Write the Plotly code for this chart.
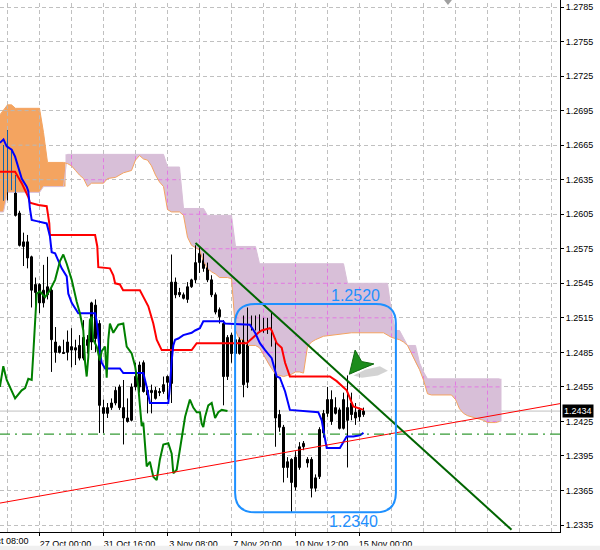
import numpy as np
import plotly.graph_objects as go

# ---------------- data ----------------
bar_index = list(range(91))
open_ = [1.2643, 1.2659, 1.2639, 1.2634, 1.2606, 1.2577, 1.2581, 1.2568, 1.2537, 1.2544,
         1.2528, 1.2535, 1.2539, 1.2494, 1.2490, 1.2485, 1.2485, 1.2487, 1.2489, 1.2491,
         1.2498, 1.2491, 1.2494, 1.2526, 1.2510, 1.2437, 1.2432, 1.2437, 1.2441, 1.2455,
         1.2437, 1.2428, 1.2426, 1.2464, 1.2455, 1.2476, 1.2452, 1.2450, 1.2445, 1.2451,
         1.2451, 1.2464, 1.2458, 1.2546, 1.2537, 1.2535, 1.2531, 1.2542, 1.2548, 1.2563,
         1.2567, 1.2559, 1.2548, 1.2535, 1.2522, 1.2510, 1.2464, 1.2500, 1.2484, 1.2484,
         1.2504, 1.2459, 1.2511, 1.2508, 1.2509, 1.2505, 1.2508, 1.2508, 1.2494, 1.2431,
         1.2420, 1.2385, 1.2392, 1.2368, 1.2385, 1.2403, 1.2392, 1.2392, 1.2367, 1.2377,
         1.2415, 1.2432, 1.2444, 1.2432, 1.2435, 1.2419, 1.2437, 1.2441, 1.2428, 1.2435,
         1.2431]
high_ = [1.2665, 1.2678, 1.2661, 1.2639, 1.2608, 1.2589, 1.2587, 1.2569, 1.2550, 1.2545,
         1.2561, 1.2568, 1.2541, 1.2507, 1.2491, 1.2496, 1.2504, 1.2506, 1.2496, 1.2500,
         1.2513, 1.2500, 1.2529, 1.2531, 1.2513, 1.2444, 1.2441, 1.2445, 1.2455, 1.2457,
         1.2461, 1.2445, 1.2458, 1.2476, 1.2477, 1.2478, 1.2455, 1.2457, 1.2455, 1.2454,
         1.2464, 1.2465, 1.2570, 1.2550, 1.2541, 1.2537, 1.2546, 1.2549, 1.2578, 1.2577,
         1.2571, 1.2563, 1.2552, 1.2537, 1.2524, 1.2513, 1.2500, 1.2502, 1.2497, 1.2498,
         1.2517, 1.2524, 1.2517, 1.2517, 1.2518, 1.2515, 1.2515, 1.2520, 1.2497, 1.2435,
         1.2422, 1.2394, 1.2393, 1.2399, 1.2407, 1.2408, 1.2394, 1.2394, 1.2379, 1.2420,
         1.2435, 1.2455, 1.2452, 1.2446, 1.2437, 1.2450, 1.2465, 1.2450, 1.2441, 1.2437,
         1.2437]
low_ = [1.2617, 1.2617, 1.2626, 1.2603, 1.2577, 1.2560, 1.2558, 1.2524, 1.2519, 1.2519,
        1.2524, 1.2531, 1.2468, 1.2476, 1.2484, 1.2484, 1.2478, 1.2472, 1.2474, 1.2478,
        1.2478, 1.2484, 1.2487, 1.2485, 1.2415, 1.2415, 1.2428, 1.2435, 1.2439, 1.2435,
        1.2405, 1.2424, 1.2425, 1.2452, 1.2450, 1.2450, 1.2432, 1.2432, 1.2444, 1.2447,
        1.2449, 1.2444, 1.2441, 1.2532, 1.2533, 1.2531, 1.2528, 1.2541, 1.2545, 1.2554,
        1.2555, 1.2546, 1.2533, 1.2518, 1.2510, 1.2439, 1.2461, 1.2476, 1.2481, 1.2483,
        1.2446, 1.2454, 1.2504, 1.2504, 1.2502, 1.2502, 1.2501, 1.2490, 1.2403, 1.2416,
        1.2372, 1.2376, 1.2346, 1.2365, 1.2383, 1.2400, 1.2385, 1.2359, 1.2364, 1.2375,
        1.2411, 1.2429, 1.2422, 1.2431, 1.2418, 1.2418, 1.2385, 1.2426, 1.2422, 1.2425,
        1.2429]
close_ = [1.2642, 1.2639, 1.2632, 1.2604, 1.2578, 1.2581, 1.2567, 1.2539, 1.2544, 1.2528,
          1.2539, 1.2542, 1.2496, 1.2485, 1.2485, 1.2484, 1.2494, 1.2490, 1.2487, 1.2480,
          1.2480, 1.2496, 1.2528, 1.2497, 1.2439, 1.2432, 1.2437, 1.2441, 1.2452, 1.2437,
          1.2428, 1.2425, 1.2455, 1.2455, 1.2474, 1.2451, 1.2448, 1.2452, 1.2452, 1.2450,
          1.2457, 1.2459, 1.2546, 1.2535, 1.2535, 1.2532, 1.2542, 1.2548, 1.2563, 1.2571,
          1.2558, 1.2548, 1.2535, 1.2520, 1.2516, 1.2464, 1.2498, 1.2484, 1.2496, 1.2496,
          1.2457, 1.2511, 1.2508, 1.2511, 1.2504, 1.2510, 1.2506, 1.2494, 1.2428, 1.2420,
          1.2385, 1.2390, 1.2372, 1.2394, 1.2403, 1.2406, 1.2389, 1.2367, 1.2376, 1.2418,
          1.2432, 1.2444, 1.2425, 1.2437, 1.2419, 1.2444, 1.2426, 1.2431, 1.2433, 1.2429,
          1.2434]

# Tenkan-sen (red)
tenkan_x = [-0.9, 2.9, 4.55, 5.4, 6.2, 6.6, 8.7, 10.8, 11.45, 11.6, 22.9, 23.45, 23.7, 26.6,
            27.45, 27.9, 29.1, 29.9, 34.1, 35.0, 36.2, 37.45, 38.3, 39.55, 47.05, 48.3, 60.8,
            63.7, 64.55, 66.6, 67.05, 68.3, 69.55, 70.4, 71.6, 81.6, 83.3, 85.8, 87.45, 90.0]
tenkan_y = [1.2642, 1.2642, 1.2632, 1.2625, 1.2620, 1.2615, 1.2613, 1.2612, 1.2597, 1.2587,
            1.2587, 1.2577, 1.2559, 1.2558, 1.2552, 1.2545, 1.2544, 1.2539, 1.2539, 1.2533,
            1.2525, 1.2510, 1.2496, 1.2487, 1.2487, 1.2493, 1.2493, 1.2502, 1.2504, 1.2506,
            1.2504, 1.2493, 1.2489, 1.2476, 1.2464, 1.2464, 1.2460, 1.2452, 1.2438, 1.2435]

# Kijun-sen (blue)
kijun_x = [-0.9, 0.0, 0.8, 2.05, 2.9, 3.7, 4.55, 5.8, 6.2, 6.6, 7.05, 8.3, 10.8, 11.6, 12.05,
           12.9, 14.55, 15.8, 16.2, 17.05, 18.7, 22.9, 23.3, 24.1, 24.55, 25.4, 29.1, 29.95,
           34.95, 35.8, 36.6, 41.2, 41.6, 42.05, 42.45, 42.9, 43.7, 44.95, 47.05, 47.9, 49.1,
           49.95, 54.95, 55.4, 61.6, 62.9, 64.1, 65.4, 67.05, 68.3, 69.1, 70.4, 71.6, 78.7,
           79.55, 79.95, 80.8, 84.1, 85.8, 87.45, 89.1, 90.0]
kijun_y = [1.2667, 1.2670, 1.2664, 1.2661, 1.2655, 1.2645, 1.2636, 1.2629, 1.2625, 1.2610,
           1.2600, 1.2599, 1.2597, 1.2586, 1.2572, 1.2571, 1.2558, 1.2551, 1.2536, 1.2528,
           1.2519, 1.2519, 1.2512, 1.2485, 1.2476, 1.2471, 1.2471, 1.2467, 1.2467, 1.2455,
           1.2441, 1.2441, 1.2455, 1.2478, 1.2491, 1.2496, 1.2497, 1.2500, 1.2502, 1.2504,
           1.2506, 1.2512, 1.2512, 1.2510, 1.2509, 1.2502, 1.2493, 1.2487, 1.2480, 1.2464,
           1.2463, 1.2451, 1.2435, 1.2433, 1.2426, 1.2418, 1.2402, 1.2402, 1.2412, 1.2412,
           1.2413, 1.2415]

# Chikou span (green)
chikou_x = [-0.9, -0.05, 0.8, 2.9, 4.55, 5.4, 6.2, 7.05, 7.45, 7.9, 8.3, 9.1, 10.4, 11.6, 12.9,
            14.1, 14.95, 15.8, 17.05, 18.3, 19.1, 19.95, 20.4, 20.8, 21.2, 21.6, 22.05, 22.45,
            23.3, 24.1, 24.55, 25.4, 25.8, 26.2, 26.6, 27.45, 28.7, 29.95, 30.8, 32.05, 32.9,
            33.7, 34.1, 34.55, 34.95, 35.8, 36.6, 37.45, 38.3, 39.1, 39.95, 41.2, 42.05, 42.45,
            43.3, 44.55, 45.4, 46.6, 47.45, 48.3, 49.1, 49.55, 49.95, 50.4, 51.2, 52.05, 52.9,
            53.7, 54.55, 56.0]
chikou_y = [1.2455, 1.2473, 1.2461, 1.2445, 1.2452, 1.2454, 1.2462, 1.2461, 1.2484, 1.2516,
            1.2536, 1.2538, 1.2533, 1.2539, 1.2548, 1.2564, 1.2570, 1.2562, 1.2548, 1.2529,
            1.2519, 1.2504, 1.2476, 1.2464, 1.2481, 1.2513, 1.2516, 1.2496, 1.2490, 1.2478,
            1.2486, 1.2490, 1.2463, 1.2496, 1.2510, 1.2502, 1.2509, 1.2510, 1.2490, 1.2484,
            1.2473, 1.2455, 1.2435, 1.2421, 1.2424, 1.2386, 1.2390, 1.2377, 1.2374, 1.2392,
            1.2405, 1.2406, 1.2397, 1.2380, 1.2383, 1.2412, 1.2429, 1.2444, 1.2437, 1.2433,
            1.2433, 1.2423, 1.2420, 1.2429, 1.2439, 1.2441, 1.2428, 1.2433, 1.2435, 1.2434]

# Kumo (cloud) - bullish part (Span A above Span B)
up_kumo_a_x = [-1, 0, 1, 2, 3, 9, 10, 11, 15]
up_kumo_a_y = [1.2691, 1.2695, 1.2700, 1.2700, 1.2697, 1.2697, 1.2676, 1.2650, 1.2650]
up_kumo_b_x = [-1, 0, 1, 9, 10, 15]
up_kumo_b_y = [1.2607, 1.2607, 1.2624, 1.2624, 1.2629, 1.2629]

# Kumo - bearish part (Span B above Span A)
dn_kumo_b_x = [16, 40, 41, 44, 45, 50, 51, 57, 58, 63, 64, 85, 86, 96, 97, 98, 99, 100,
               101, 103, 104, 105, 106, 124]
dn_kumo_b_y = [1.2657, 1.2657, 1.2646, 1.2646, 1.2610, 1.2610, 1.2604, 1.2604, 1.2577, 1.2577,
               1.2562, 1.2562, 1.2545, 1.2545, 1.2520, 1.2504, 1.2504, 1.2498,
               1.2491, 1.2491, 1.2476, 1.2468, 1.2462, 1.2462]
dn_kumo_a_x = [16, 17, 18, 19, 20, 21, 22, 25, 26, 28, 30, 32, 33, 34, 35, 36, 37, 38, 39, 40,
               41, 42, 44, 45, 46, 47, 48, 49, 50, 51, 52, 53, 54, 55, 56, 57, 58, 59, 60, 61,
               63, 64, 65, 66, 67, 68, 69, 70, 71, 72, 73, 74, 75, 76, 77, 78, 80, 82, 87, 95,
               97, 99, 100, 101, 102, 103, 104, 105, 106, 107, 112, 113, 114, 115, 116, 118,
               120, 121, 123, 124]
dn_kumo_a_y = [1.2649, 1.2647, 1.2643, 1.2639, 1.2636, 1.2629, 1.2632, 1.2632, 1.2636, 1.2637,
               1.2641, 1.2643, 1.2652, 1.2656, 1.2653, 1.2652, 1.2647, 1.2639, 1.2633, 1.2629,
               1.2609, 1.2607, 1.2607, 1.2604, 1.2585, 1.2578, 1.2576, 1.2574, 1.2564, 1.2558,
               1.2555, 1.2553, 1.2550, 1.2550, 1.2550, 1.2549, 1.2504, 1.2496, 1.2496, 1.2491,
               1.2491, 1.2489, 1.2483, 1.2476, 1.2471, 1.2466, 1.2465, 1.2464, 1.2465, 1.2466,
               1.2468, 1.2468, 1.2467, 1.2490, 1.2494, 1.2496, 1.2499, 1.2500, 1.2502, 1.2502,
               1.2498, 1.2496, 1.2494, 1.2491, 1.2484, 1.2476, 1.2470, 1.2461, 1.2449, 1.2448,
               1.2448, 1.2444, 1.2436, 1.2432, 1.2430, 1.2428, 1.2426, 1.2424, 1.2424, 1.2425]

# drawn objects
trend_red_x = [-1, 140]
trend_red_y = [1.2354, 1.2441]
trend_green_x = [48, 127]
trend_green_y = [1.2580, 1.2331]
support_level = 1.2414
current_price = 1.2434
current_price_label = "1.2434"
box_x = [57.9, 98.1]
box_y = [1.2346, 1.2527]
box_labels = ["1.2520", "1.2340"]
box_label_x = [88.1, 87.4]
box_label_y = [1.2534, 1.2338]
arrow_x = [86.45, 87.9, 89.55, 92.6, 89.1]
arrow_y = [1.2466, 1.2487, 1.2477, 1.2475, 1.2470]
arrow_shadow_x = [87.5, 90.4, 94.1, 96.1, 93.6, 89.6]
arrow_shadow_y = [1.2465, 1.2470, 1.2473, 1.2469, 1.2465, 1.2463]

# axes
price_ticks = [1.2335, 1.2365, 1.2395, 1.2425, 1.2455, 1.2485, 1.2515, 1.2545,
               1.2575, 1.2605, 1.2635, 1.2665, 1.2695, 1.2725, 1.2755, 1.2785]
price_tick_text = ["1.2335", "1.2365", "1.2395", "1.2425", "1.2455", "1.2485", "1.2515",
                   "1.2545", "1.2575", "1.2605", "1.2635", "1.2665", "1.2695", "1.2725",
                   "1.2755", "1.2785"]
date_tick_bars = [9, 25, 41, 57, 73, 89]
date_tick_text = ["27 Oct 00:00", "31 Oct 16:00", "3 Nov 08:00", "7 Nov 20:00",
                  "10 Nov 12:00", "15 Nov 00:00"]
partial_date_label = "23 Oct 08:00"
grid_bars = [1, 9, 17, 25, 33, 41, 49, 57, 65, 73, 81, 89, 97, 105, 113, 121, 129, 137]

# ---------------- styling ----------------
GRID = "#C0C0C0"
DASH = "4px,3px"
SANDY = "#F4A460"
THISTLE = "#D8BFD8"
FONT = "Liberation Sans, Arial, sans-serif"
BODY_W = 0.5

fig = go.Figure()


def polygon(ax, ay, bx, by):
    xs = [ax[0] - 0.5] + list(ax) + [ax[-1] + 0.5, bx[-1] + 0.5] + list(bx[::-1]) + [bx[0] - 0.5]
    ys = [ay[0]] + list(ay) + [ay[-1], by[-1]] + list(by[::-1]) + [by[0]]
    return xs, ys


def grid_overlay(ax, ay, bx, by):
    x0, x1 = ax[0] - 0.5, ax[-1] + 0.5
    xs = np.arange(x0, x1 + 1e-9, 0.02)
    ua = np.interp(xs, ax, ay)
    ub = np.interp(xs, bx, by)
    top, bot = np.maximum(ua, ub), np.minimum(ua, ub)
    X, Y = [], []
    for p in price_ticks:
        m = ((bot < p) & (p < top)).astype(int)
        edges = np.flatnonzero(np.diff(np.concatenate([[0], m, [0]])))
        for s, e in zip(edges[::2], edges[1::2]):
            X += [float(xs[s]), float(xs[e - 1]), None]
            Y += [p, p, None]
    for b in grid_bars:
        if x0 <= b <= x1:
            va, vb = float(np.interp(b, ax, ay)), float(np.interp(b, bx, by))
            X += [b, b, None]
            Y += [va, vb, None]
    return X, Y


def add_candles(xs, o, h, l, c, line_col, bull_fill, bear_fill):
    wx, wy = [], []
    for i, hh, ll in zip(xs, h, l):
        wx += [i, i, None]
        wy += [ll, hh, None]
    fig.add_trace(go.Scatter(x=wx, y=wy, mode="lines", line=dict(color=line_col, width=1),
                             hoverinfo="skip"))
    for bull, fill in ((True, bull_fill), (False, bear_fill)):
        sel = [k for k in range(len(xs)) if (c[k] >= o[k]) == bull]
        fig.add_trace(go.Bar(
            x=[xs[k] for k in sel],
            base=[min(o[k], c[k]) for k in sel],
            y=[abs(c[k] - o[k]) for k in sel],
            width=BODY_W, marker=dict(color=fill, line=dict(color=line_col, width=1)),
            hoverinfo="skip"))


# cloud fills
px_, py_ = polygon(up_kumo_a_x, up_kumo_a_y, up_kumo_b_x, up_kumo_b_y)
fig.add_trace(go.Scatter(x=px_, y=py_, fill="toself", fillcolor=SANDY, mode="lines",
                         line=dict(width=0), hoverinfo="skip"))
px_, py_ = polygon(dn_kumo_b_x, dn_kumo_b_y, dn_kumo_a_x, dn_kumo_a_y)
fig.add_trace(go.Scatter(x=px_, y=py_, fill="toself", fillcolor=THISTLE, mode="lines",
                         line=dict(width=0), hoverinfo="skip"))

# grid seen through the cloud
gx, gy = grid_overlay(up_kumo_a_x, up_kumo_a_y, up_kumo_b_x, up_kumo_b_y)
fig.add_trace(go.Scatter(x=gx, y=gy, mode="lines", line=dict(color="#B8B8B8", width=1, dash=DASH),
                         hoverinfo="skip"))
gx, gy = grid_overlay(dn_kumo_a_x, dn_kumo_a_y, dn_kumo_b_x, dn_kumo_b_y)
fig.add_trace(go.Scatter(x=gx, y=gy, mode="lines", line=dict(color="#E27AE2", width=1, dash=DASH),
                         hoverinfo="skip"))

# span lines
fig.add_trace(go.Scatter(x=up_kumo_b_x + dn_kumo_b_x, y=up_kumo_b_y + dn_kumo_b_y, mode="lines",
                         line=dict(color=THISTLE, width=1), hoverinfo="skip"))
fig.add_trace(go.Scatter(x=up_kumo_a_x + dn_kumo_a_x, y=up_kumo_a_y + dn_kumo_a_y, mode="lines",
                         line=dict(color=SANDY, width=1), hoverinfo="skip"))

# candles
add_candles(bar_index, open_, high_, low_, close_, "black", "white", "black")

# candles inside the bullish cloud appear blue
in_cloud = [i for i in bar_index if i <= up_kumo_a_x[-1]]
floor_ = [float(np.interp(i, up_kumo_b_x, up_kumo_b_y)) for i in in_cloud]
bx_, bo, bh, bl, bc = [], [], [], [], []
for i, f in zip(in_cloud, floor_):
    if high_[i] > f:
        bx_.append(i)
        bo.append(max(open_[i], f)); bh.append(high_[i])
        bl.append(max(low_[i], f)); bc.append(max(close_[i], f))
add_candles(bx_, bo, bh, bl, bc, "#1461A8", "#1461A8", "#1461A8")

# Ichimoku lines
fig.add_trace(go.Scatter(x=tenkan_x, y=tenkan_y, mode="lines",
                         line=dict(color="#FF0000", width=2), hoverinfo="skip"))
fig.add_trace(go.Scatter(x=kijun_x, y=kijun_y, mode="lines",
                         line=dict(color="#0000FF", width=2), hoverinfo="skip"))
fig.add_trace(go.Scatter(x=chikou_x, y=chikou_y, mode="lines",
                         line=dict(color="#008000", width=2), hoverinfo="skip"))

# trend lines
fig.add_trace(go.Scatter(x=trend_red_x, y=trend_red_y, mode="lines",
                         line=dict(color="#FF0000", width=1), hoverinfo="skip"))
fig.add_trace(go.Scatter(x=trend_green_x, y=trend_green_y, mode="lines",
                         line=dict(color="#006400", width=2), hoverinfo="skip"))

shapes = []
for b in grid_bars:
    shapes.append(dict(type="line", xref="x", yref="paper", x0=b, x1=b, y0=0, y1=1,
                       line=dict(color=GRID, width=1, dash=DASH), layer="below"))
shapes.append(dict(type="line", xref="paper", yref="y", x0=0, x1=1, y0=current_price,
                   y1=current_price, line=dict(color="#C0C0C0", width=1), layer="below"))
shapes.append(dict(type="line", xref="paper", yref="y", x0=0, x1=1, y0=support_level,
                   y1=support_level, line=dict(color="#008000", width=1, dash="10px,5px,2px,5px"),
                   layer="above"))

# rounded rectangle
x0, x1 = box_x
y0, y1 = box_y
rx, ry = 5.0, 0.0017
box_path = (f"M {x0 + rx},{y1} L {x1 - rx},{y1} Q {x1},{y1} {x1},{y1 - ry} "
            f"L {x1},{y0 + ry} Q {x1},{y0} {x1 - rx},{y0} L {x0 + rx},{y0} "
            f"Q {x0},{y0} {x0},{y0 + ry} L {x0},{y1 - ry} Q {x0},{y1} {x0 + rx},{y1} Z")
shapes.append(dict(type="path", xref="x", yref="y", path=box_path,
                   line=dict(color="#1E90FF", width=2), layer="above"))

# arrow
shadow_path = "M " + " L ".join(f"{a},{b}" for a, b in zip(arrow_shadow_x, arrow_shadow_y)) + " Z"
shapes.append(dict(type="path", xref="x", yref="y", path=shadow_path,
                   fillcolor="rgba(80,80,80,0.25)", line=dict(width=0), layer="above"))
arrow_path = "M " + " L ".join(f"{a},{b}" for a, b in zip(arrow_x, arrow_y)) + " Z"
shapes.append(dict(type="path", xref="x", yref="y", path=arrow_path,
                   fillcolor="#1C8C1C", line=dict(color="#0F6A0F", width=1), layer="above"))

# chart-shift marker and bottom strip
shapes.append(dict(type="path", xref="paper", yref="paper",
                   path="M 0.793,1 L 0.807,1 L 0.8,0.9906 Z",
                   fillcolor="#A0A0A0", line=dict(width=0)))
shapes.append(dict(type="rect", xref="paper", yref="paper", x0=-0.01, x1=1.08,
                   y0=-0.05, y1=-0.026, fillcolor="#F0F0F0", line=dict(width=0)))

annotations = []
for t, ax_, ay_ in zip(box_labels, box_label_x, box_label_y):
    annotations.append(dict(x=ax_, y=ay_, xref="x", yref="y", text=t, showarrow=False,
                            font=dict(family=FONT, size=16, color="#1E90FF"),
                            xanchor="center", yanchor="middle"))
annotations.append(dict(x=562 / 560, y=current_price, xref="paper", yref="y",
                        text=current_price_label, showarrow=False, xanchor="left",
                        yanchor="middle", bgcolor="black", borderpad=1,
                        font=dict(family=FONT, size=9, color="white")))
annotations.append(dict(x=-25 / 560, y=-0.0169, xref="paper", yref="paper",
                        text=partial_date_label, showarrow=False, xanchor="left",
                        yanchor="middle", font=dict(family=FONT, size=9, color="black")))

fig.update_layout(
    width=600, height=550,
    margin=dict(l=0, r=40, t=0, b=18),
    plot_bgcolor="white", paper_bgcolor="white",
    showlegend=False, hovermode=False, barmode="overlay",
    font=dict(family=FONT, size=9, color="black"),
    shapes=shapes, annotations=annotations,
    xaxis=dict(range=[-0.875, 139.125], tickmode="array", tickvals=date_tick_bars,
               ticktext=date_tick_text, ticks="outside", ticklen=3, tickcolor="black",
               showline=True, linecolor="black", linewidth=1, showgrid=False,
               zeroline=False, ticklabelshift=26, fixedrange=True),
    yaxis=dict(range=[1.232895, 1.27911], side="right", tickmode="array",
               tickvals=price_ticks, ticktext=price_tick_text, ticks="outside", ticklen=3,
               tickcolor="black", showline=True, linecolor="black", linewidth=1,
               showgrid=True, gridcolor=GRID, griddash=DASH, gridwidth=1, zeroline=False,
               fixedrange=True),
)

fig.write_html("out.html", config={"displayModeBar": False, "staticPlot": True},
               post_script="document.body.style.margin='0px';document.body.style.overflow='hidden';")
